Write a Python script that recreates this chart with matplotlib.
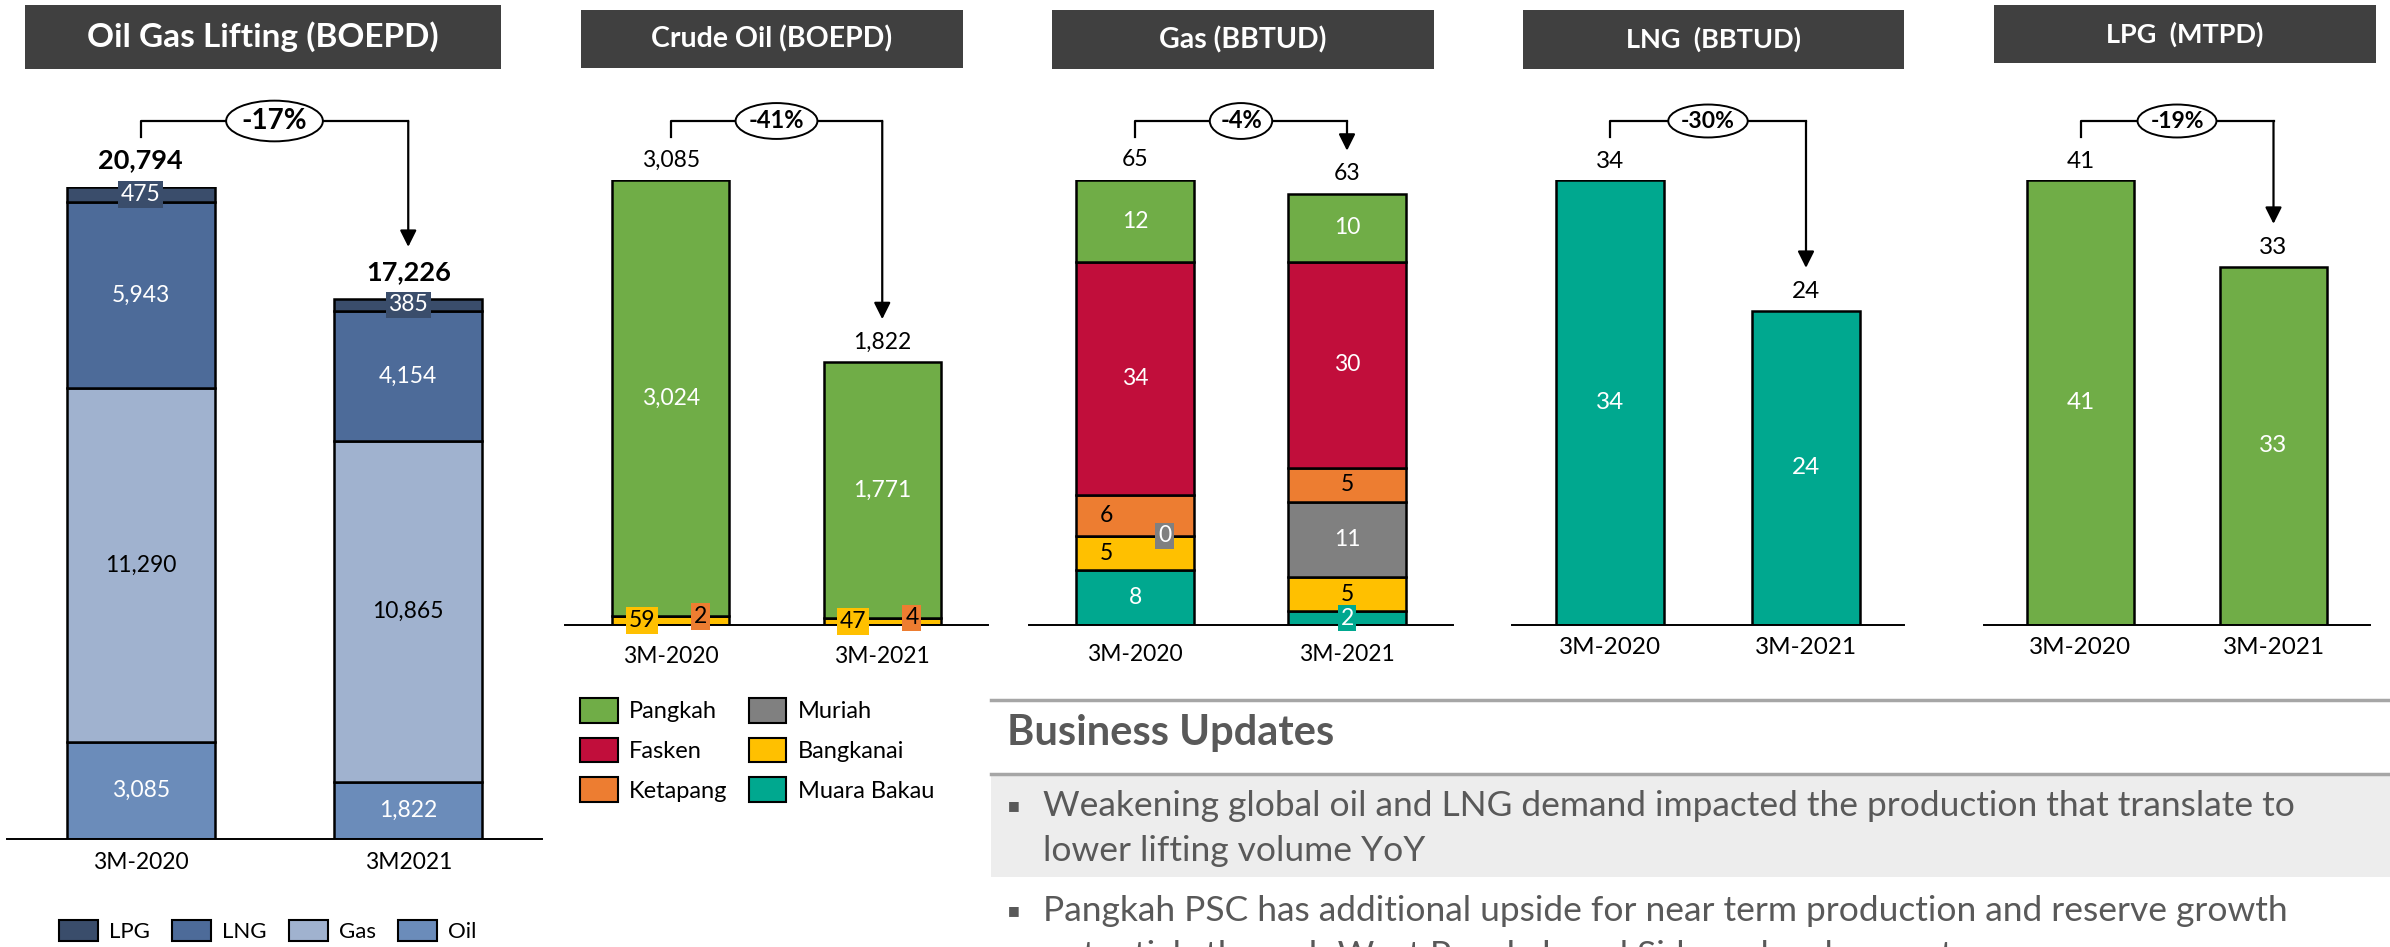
import matplotlib.pyplot as plt
import matplotlib.transforms as mtransforms
from matplotlib import font_manager
from matplotlib.lines import Line2D
from matplotlib.patches import Patch, Rectangle

# ---------------- data ----------------
periods = ["3M-2020", "3M-2021"]
lifting_periods = ["3M-2020", "3M2021"]

lifting_series = ["LPG", "LNG", "Gas", "Oil"]
lifting_oil = [3085, 1822]
lifting_gas = [11290, 10865]
lifting_lng = [5943, 4154]
lifting_lpg = [475, 385]
lifting_total = [20794, 17226]
lifting_change = "-17%"

crude_bangkanai = [59, 47]
crude_ketapang = [2, 4]
crude_pangkah = [3024, 1771]
crude_total = [3085, 1822]
crude_change = "-41%"

gas_muara_bakau = [8, 2]
gas_bangkanai = [5, 5]
gas_muriah = [0, 11]
gas_ketapang = [6, 5]
gas_fasken = [34, 30]
gas_pangkah = [12, 10]
gas_total = [65, 63]
gas_change = "-4%"

lng_values = [34, 24]
lng_change = "-30%"
lpg_values = [41, 33]
lpg_change = "-19%"

field_names = ["Pangkah", "Fasken", "Ketapang", "Muriah", "Bangkanai", "Muara Bakau"]

update_header = "Business Updates"
update_bullets = [
    ["Weakening global oil and LNG demand impacted the production that translate to",
     "lower lifting volume YoY"],
    ["Pangkah PSC has additional upside for near term production and reserve growth",
     "potentials through West Pangkah and Sidayu development"],
]

# ---------------- style ----------------
C_LPG, C_LNG, C_GAS, C_OIL = "#3a4d6b", "#4d6b99", "#a0b2cf", "#6b8cba"
GREEN, RED, ORANGE = "#70ad47", "#c10e3b", "#ed7d31"
GREY, YELLOW, TEAL = "#808080", "#ffc000", "#00a88f"
field_colors = [GREEN, RED, ORANGE, GREY, YELLOW, TEAL]
TXT_GREY = "#595959"
EDGE_W = 1.8


def pick(*names):
    avail = {f.name for f in font_manager.fontManager.ttflist}
    for n in names:
        if n in avail:
            return n
    return "DejaVu Sans"


BASE = pick("Lato", "Open Sans", "DejaVu Sans")
NARROW = pick("Liberation Sans Narrow", "Lato")

W, H = 2390, 947
fig = plt.figure(figsize=(W / 100, H / 100), dpi=100)
X = [0, 1]
BAR_W = 0.555


def fx(px):
    return px / W


def fy(py):
    return 1 - py / H


def make_axes(left, right, base, top, ymax, cats, font, size, pad):
    ax = fig.add_axes([fx(left), fy(base), fx(right - left), (base - top) / H])
    ax.set_xlim(-0.5, 1.5)
    ax.set_ylim(0, ymax)
    ax.patch.set_visible(False)
    for side in ("top", "left", "right"):
        ax.spines[side].set_visible(False)
    ax.spines["bottom"].set_linewidth(1.4)
    ax.set_yticks([])
    ax.set_xticks(X, cats, family=font, fontsize=size)
    ax.tick_params(axis="x", length=0, pad=pad)
    return ax


def title_box(x0, x1, y0, y1, text, font, size):
    fig.add_artist(Rectangle((fx(x0), fy(y1)), fx(x1 - x0), (y1 - y0) / H,
                             transform=fig.transFigure, facecolor="#404040",
                             edgecolor="none"))
    fig.text(fx((x0 + x1) / 2), fy((y0 + y1) / 2), text, color="white",
             family=font, fontweight="bold", fontsize=size, ha="center", va="center")


def stacked(ax, layers, colors):
    bottom = [0, 0]
    mids = []
    for vals, col in zip(layers, colors):
        ax.bar(X, vals, BAR_W, bottom=bottom, color=col, edgecolor="black",
               linewidth=EDGE_W, zorder=2)
        mids.append([b + v / 2 for b, v in zip(bottom, vals)])
        bottom = [b + v for b, v in zip(bottom, vals)]
    return mids


def label(ax, x, y, value, color, font=BASE, size=16.5, box=None):
    kw = {}
    if box is not None:
        kw["bbox"] = dict(boxstyle="square,pad=0.12", facecolor=box, edgecolor="none")
    ax.text(x, y, f"{value:,}", color=color, family=font, fontsize=size,
            ha="center", va="center", zorder=5, **kw)


def totals(ax, vals, gap_px, font=BASE, size=16.5, weight="normal"):
    for i, v in zip(X, vals):
        ax.annotate(f"{v:,}", xy=(i, v), xytext=(0, gap_px * 0.72),
                    textcoords="offset points", ha="center", va="center",
                    family=font, fontsize=size, fontweight=weight, zorder=5)


def bracket(ax, vals, change, tip_px, font=BASE, size=17):
    blend = mtransforms.blended_transform_factory(ax.transData, fig.transFigure)
    ax.plot([0, 0, 1], [fy(137), fy(121), fy(121)], transform=blend,
            color="black", linewidth=1.6, clip_on=False, zorder=3)
    tip = ax.transData + mtransforms.ScaledTranslation(0, tip_px / 100, fig.dpi_scale_trans)
    ax.annotate("", xy=(1, vals[1]), xycoords=tip, xytext=(1, fy(121)),
                textcoords=blend,
                arrowprops=dict(arrowstyle="-|>,head_length=0.5,head_width=0.25",
                                mutation_scale=20, color="black", linewidth=1.6,
                                shrinkA=0, shrinkB=0), zorder=3)
    ax.text(0.5, fy(121), change, transform=blend, ha="center", va="center",
            family=font, fontsize=size, fontweight="bold", zorder=6,
            bbox=dict(boxstyle="ellipse,pad=0.05", facecolor="white",
                      edgecolor="black", linewidth=1.4))


# ---------------- panel 1: oil gas lifting ----------------
title_box(25, 501, 5, 69, "Oil Gas Lifting (BOEPD)", BASE, 24)
ax1 = make_axes(7, 542, 839, 187, max(lifting_total), lifting_periods, BASE, 16.5, 9)
mids = stacked(ax1, [lifting_oil, lifting_gas, lifting_lng, lifting_lpg],
               [C_OIL, C_GAS, C_LNG, C_LPG])
for i in X:
    label(ax1, i, mids[0][i], lifting_oil[i], "white")
    label(ax1, i, mids[1][i], lifting_gas[i], "black")
    label(ax1, i, mids[2][i], lifting_lng[i], "white")
    label(ax1, i, mids[3][i], lifting_lpg[i], "white", box=C_LPG)
totals(ax1, lifting_total, 27, size=19.5, weight="bold")
bracket(ax1, lifting_total, lifting_change, 52, size=20)

lift_colors = {"LPG": C_LPG, "LNG": C_LNG, "Gas": C_GAS, "Oil": C_OIL}
fig.legend(handles=[Patch(facecolor=lift_colors[s], edgecolor="black", linewidth=1.5,
                          label=s) for s in lifting_series],
           loc="center", bbox_to_anchor=(fx(268), fy(931)), ncol=4, frameon=False,
           prop={"family": BASE, "size": 16}, handlelength=1.75, handleheight=1.1,
           handletextpad=0.5, columnspacing=1.0, borderpad=0, borderaxespad=0)

# ---------------- panel 2: crude oil ----------------
title_box(581, 963, 10, 68, "Crude Oil (BOEPD)", BASE, 20.5)
ax2 = make_axes(565, 988, 625, 180, max(crude_total), periods, BASE, 16.5, 15)
mids = stacked(ax2, [crude_bangkanai, crude_ketapang, crude_pangkah],
               [YELLOW, ORANGE, GREEN])
for i in X:
    label(ax2, i, mids[2][i], crude_pangkah[i], "white")
    label(ax2, i - 0.137, mids[0][i], crude_bangkanai[i], "black", box=YELLOW)
    label(ax2, i + 0.14, mids[1][i], crude_ketapang[i], "black", box=ORANGE)
totals(ax2, crude_total, 20)
bracket(ax2, crude_total, crude_change, 43)

fig.legend(handles=[Patch(facecolor=c, edgecolor="black", linewidth=1.5, label=n)
                    for n, c in zip(field_names, field_colors)],
           loc="center", bbox_to_anchor=(fx(757), fy(750)), ncol=2, frameon=False,
           prop={"family": BASE, "size": 17}, handlelength=1.6, handleheight=1.2,
           handletextpad=0.48, labelspacing=0.65, columnspacing=0.9,
           borderpad=0, borderaxespad=0)

# ---------------- panel 3: gas ----------------
title_box(1052, 1434, 10, 69, "Gas (BBTUD)", BASE, 20.5)
ax3 = make_axes(1029, 1453, 625, 180, max(gas_total), periods, BASE, 16.5, 14)
gas_layers = [gas_muara_bakau, gas_bangkanai, gas_muriah, gas_ketapang, gas_fasken, gas_pangkah]
mids = stacked(ax3, gas_layers, [TEAL, YELLOW, GREY, ORANGE, RED, GREEN])
# 3M-2020
label(ax3, 0, mids[0][0], gas_muara_bakau[0], "white")
label(ax3, -0.137, mids[1][0], gas_bangkanai[0], "black")
label(ax3, 0.14, mids[2][0], gas_muriah[0], "white", box=GREY)
label(ax3, -0.137, mids[3][0], gas_ketapang[0], "black")
label(ax3, 0, mids[4][0], gas_fasken[0], "white")
label(ax3, 0, mids[5][0], gas_pangkah[0], "white")
# 3M-2021
label(ax3, 1, mids[0][1], gas_muara_bakau[1], "white", box=TEAL)
label(ax3, 1, mids[1][1], gas_bangkanai[1], "black")
label(ax3, 1, mids[2][1], gas_muriah[1], "white")
label(ax3, 1, mids[3][1], gas_ketapang[1], "black")
label(ax3, 1, mids[4][1], gas_fasken[1], "white")
label(ax3, 1, mids[5][1], gas_pangkah[1], "white")
totals(ax3, gas_total, 20)
bracket(ax3, gas_total, gas_change, 43)

# ---------------- panels 4 & 5: LNG, LPG ----------------
for (x0, x1, bl, br, ty0, ty1, name, vals, col, chg) in [
        (1523, 1904, 1512, 1904, 10, 69, "LNG  (BBTUD)", lng_values, TEAL, lng_change),
        (1994, 2376, 1984, 2370, 5, 63, "LPG  (MTPD)", lpg_values, GREEN, lpg_change)]:
    title_box(x0, x1, ty0, ty1, name, NARROW, 19.5)
    ax = make_axes(bl, br, 625, 180, max(vals), periods, NARROW, 17.5, 9)
    ax.bar(X, vals, BAR_W, color=col, edgecolor="black", linewidth=EDGE_W, zorder=2)
    for i in X:
        label(ax, i, vals[i] / 2, vals[i], "white", font=NARROW, size=17.5)
    totals(ax, vals, 19, font=NARROW, size=17.5)
    bracket(ax, vals, chg, 43, font=NARROW, size=16.5)

# ---------------- business updates ----------------
fig.add_artist(Rectangle((fx(991), fy(877)), 1 - fx(991), (877 - 774) / H,
                         transform=fig.transFigure, facecolor="#ededed",
                         edgecolor="none"))
for yl in (700, 774):
    fig.add_artist(Line2D([fx(991), 1], [fy(yl), fy(yl)], transform=fig.transFigure,
                          color="#a6a6a6", linewidth=2.5))
fig.text(fx(1007), fy(733), update_header, family=BASE, fontweight="bold",
         fontsize=30, color=TXT_GREY, va="center")

y = 806
for lines in update_bullets:
    fig.text(fx(1014), fy(y), "\u25a0", family="DejaVu Sans", fontsize=9,
             color=TXT_GREY, ha="center", va="center")
    for line in lines:
        fig.text(fx(1043), fy(y), line, family=BASE, fontsize=25.5,
                 color=TXT_GREY, va="center")
        y += 45
    y += 15

fig.savefig("out.png", dpi=100)
